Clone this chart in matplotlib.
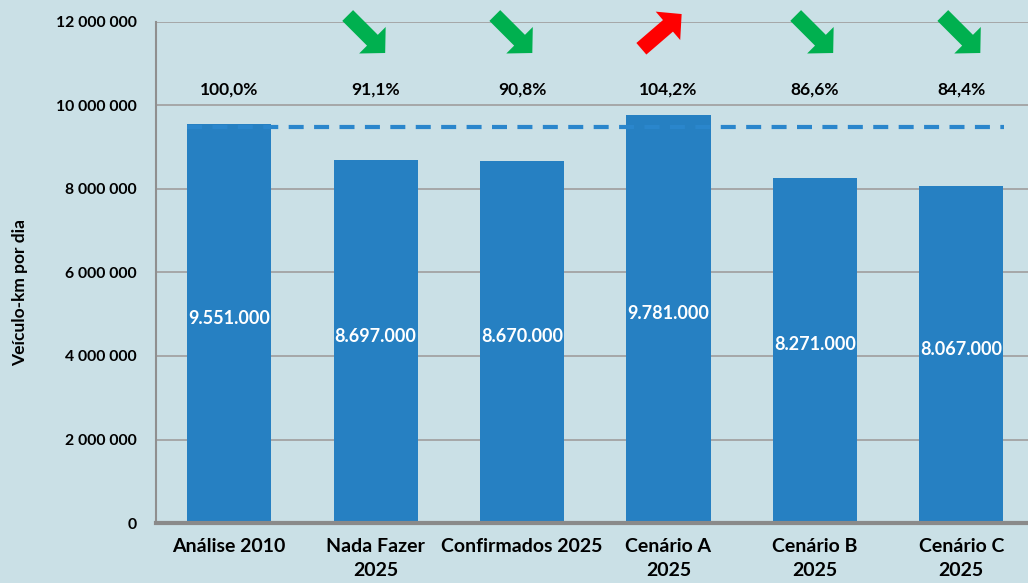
import matplotlib.pyplot as plt

# Dados do gráfico
categorias = ['Análise 2010', 'Nada Fazer\n2025', 'Confirmados 2025',
              'Cenário A\n2025', 'Cenário B\n2025', 'Cenário C\n2025']
veiculo_km = [9551000, 8697000, 8670000, 9781000, 8271000, 8067000]
percentuais = ['100,0%', '91,1%', '90,8%', '104,2%', '86,6%', '84,4%']
tendencia = [None, 'down', 'down', 'up', 'down', 'down']
linha_base = 9490000

# deslocamento horizontal das setas (layout)
seta_dx = [0, 0.065, 0.07, 0.09, 0.125, 0.13]

fundo = '#cae0e6'
azul = '#2680c2'

plt.rcParams['font.family'] = ['Lato', 'DejaVu Sans']
plt.rcParams['font.size'] = 12

fig = plt.figure(figsize=(10.28, 5.83), dpi=100, facecolor=fundo)
ax = fig.add_axes([0.1518, 0.1029, 0.8545, 0.8594])
ax.set_facecolor(fundo)

x = list(range(len(categorias)))
ax.bar(x, veiculo_km, width=0.575, color=azul, zorder=2)

# Linha tracejada de referência (Análise 2010)
ax.plot([-0.29, 5.29], [linha_base, linha_base], ls=(0, (3.6, 2.5)),
        color='#2a86cc', lw=3, zorder=3)

for i, v in enumerate(veiculo_km):
    rotulo = f'{v:,}'.replace(',', '.')
    ax.text(i, v / 2 + 130000, rotulo, ha='center', va='center',
            color='white', fontsize=13, fontweight='bold', zorder=4)
    ax.text(i, 10390000, percentuais[i], ha='center', va='center',
            color='black', fontsize=12.5, fontweight='bold')

    # Setas de tendência
    if tendencia[i] == 'down':
        ponta = (i + seta_dx[i], 11257000)
        desloc = (-27, 27)
        cor = '#00b04f'
    elif tendencia[i] == 'up':
        ponta = (i + seta_dx[i], 12190000)
        desloc = (-29, -25)
        cor = '#ff0000'
    else:
        continue
    ax.annotate('', xy=ponta, xytext=desloc, textcoords='offset points',
                annotation_clip=False,
                arrowprops=dict(arrowstyle='simple,head_length=13,head_width=27,tail_width=11',
                                mutation_scale=1, color=cor, lw=0,
                                shrinkA=0, shrinkB=0))

ax.set_xlim(-0.5, 5.5)
ax.set_ylim(0, 12000000)
ax.set_yticks(range(0, 12000001, 2000000))
ax.set_yticklabels([f'{t:,}'.replace(',', ' ') for t in range(0, 12000001, 2000000)],
                   fontweight='bold', fontsize=11.3)
ax.set_xticks(x)
ax.set_xticklabels(categorias, fontweight='bold', fontsize=14, linespacing=1.5)
ax.tick_params(axis='y', length=0, pad=14)
ax.tick_params(axis='x', length=0, pad=11)

ax.grid(axis='y', color='#a3a3a3', lw=1.3, zorder=0)
ax.set_axisbelow(True)
for lado in ['top', 'right']:
    ax.spines[lado].set_visible(False)
ax.spines['left'].set_color('#8f8f8f')
ax.spines['left'].set_linewidth(1.5)
ax.spines['bottom'].set_color('#8a8a8a')
ax.spines['bottom'].set_linewidth(3)

ax.set_ylabel('Veículo-km por dia', fontweight='bold', fontsize=12.5)
ax.yaxis.set_label_coords(-0.146, 0.46)

fig.savefig('out.png', dpi=100, facecolor=fundo)
